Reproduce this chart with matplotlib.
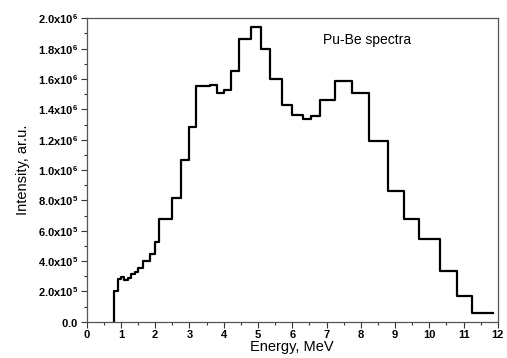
import numpy as np
import matplotlib
matplotlib.use("Agg")
import matplotlib.pyplot as plt
from matplotlib.ticker import MultipleLocator, FuncFormatter

plt.rcParams['font.family'] = ['Liberation Sans', 'DejaVu Sans']
plt.rcParams['mathtext.fontset'] = 'custom'
plt.rcParams['mathtext.rm'] = 'Liberation Sans'
plt.rcParams['mathtext.bf'] = 'Liberation Sans:bold'

# bin edges (MeV) and intensities (arb. units)
energy_edges = [0.8, 0.9, 1.0, 1.1, 1.2, 1.3, 1.4, 1.5, 1.65, 1.85,
                2.0, 2.1, 2.5, 2.75, 3.0, 3.2, 3.6, 3.8, 4.0, 4.2,
                4.45, 4.8, 5.1, 5.35, 5.7, 6.0, 6.3, 6.55, 6.8, 7.25,
                7.75, 8.25, 8.8, 9.25, 9.7, 10.3, 10.8, 11.25, 11.85]
intensity = [2.0e5, 2.8e5, 2.97e5, 2.75e5, 2.9e5, 3.12e5, 3.26e5, 3.52e5, 4.0e5, 4.44e5,
             5.27e5, 6.79e5, 8.13e5, 1.066e6, 1.283e6, 1.551e6, 1.56e6, 1.51e6, 1.525e6, 1.653e6,
             1.862e6, 1.941e6, 1.796e6, 1.598e6, 1.428e6, 1.363e6, 1.334e6, 1.358e6, 1.461e6, 1.585e6,
             1.506e6, 1.193e6, 8.62e5, 6.79e5, 5.47e5, 3.36e5, 1.68e5, 5.9e4]

fig = plt.figure(figsize=(5.07, 3.58), dpi=100)
ax = fig.add_axes([0.171, 0.101, 0.811, 0.848])

# start the step from zero at the first edge
xs = np.r_[energy_edges[0], energy_edges]
ys = np.r_[0, intensity, intensity[-1]]
ax.step(xs, ys, where='post', color='black', lw=1.6)

ax.set_xlim(0, 12)
ax.set_ylim(0, 2.0e6)
ax.xaxis.set_major_locator(MultipleLocator(1))
ax.xaxis.set_minor_locator(MultipleLocator(0.5))
ax.yaxis.set_major_locator(MultipleLocator(2e5))
ax.yaxis.set_minor_locator(MultipleLocator(1e5))


def sci(v, pos):
    if v == 0:
        return r'$\mathbf{0.0}$'
    e = int(np.floor(np.log10(abs(v)) + 1e-9))
    m = v / 10 ** e
    return r'$\mathbf{%.1fx10^{%d}}$' % (m, e)


ax.yaxis.set_major_formatter(FuncFormatter(sci))
ax.tick_params(which='both', direction='out', top=False, right=False,
               labelsize=8, color='#333333', width=0.8, pad=2)
ax.tick_params(which='major', length=4)
ax.tick_params(which='minor', length=2.5)
for lab in ax.get_xticklabels():
    lab.set_fontweight('bold')
for s in ax.spines.values():
    s.set_color('#555555')
    s.set_linewidth(0.9)

ax.set_xlabel('Energy, MeV', fontsize=10.5, labelpad=0)
ax.set_ylabel('Intensity, ar.u.', fontsize=10.5, labelpad=6)
ax.text(6.9, 1.86e6, 'Pu-Be spectra', fontsize=10, ha='left', va='center')

fig.savefig('out.png', dpi=100)
